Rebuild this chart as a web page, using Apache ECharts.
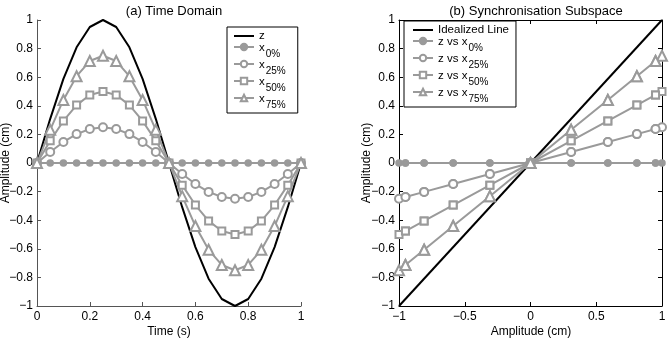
<!DOCTYPE html>
<html>
<head>
<meta charset="utf-8">
<script src="https://cdn.jsdelivr.net/npm/echarts@6/dist/echarts.min.js"></script>
<style>
  html, body { margin: 0; padding: 0; background: #fff; }
  #main { width: 672px; height: 338px; }
</style>
</head>
<body>
<div id="main"></div>
<script>
// sample times (s)
const time = [0, 0.05, 0.1, 0.15, 0.2, 0.25, 0.3, 0.35, 0.4, 0.45, 0.5,
  0.55, 0.6, 0.65, 0.7, 0.75, 0.8, 0.85, 0.9, 0.95, 1];
// reference signal z
const zVals = [0, 0.309, 0.588, 0.809, 0.951, 1, 0.951, 0.809, 0.588, 0.309, 0,
  -0.309, -0.588, -0.809, -0.951, -1, -0.951, -0.809, -0.588, -0.309, 0];
const x0 = [0, 0, 0, 0, 0, 0, 0, 0, 0, 0, 0, 0, 0, 0, 0, 0, 0, 0, 0, 0, 0];
const x25 = [0, 0.077, 0.147, 0.202, 0.238, 0.25, 0.238, 0.202, 0.147, 0.077, 0,
  -0.077, -0.147, -0.202, -0.238, -0.25, -0.238, -0.202, -0.147, -0.077, 0];
const x50 = [0, 0.155, 0.294, 0.405, 0.476, 0.5, 0.476, 0.405, 0.294, 0.155, 0,
  -0.155, -0.294, -0.405, -0.476, -0.5, -0.476, -0.405, -0.294, -0.155, 0];
const x75 = [0, 0.232, 0.441, 0.607, 0.713, 0.75, 0.713, 0.607, 0.441, 0.232, 0,
  -0.232, -0.441, -0.607, -0.713, -0.75, -0.713, -0.607, -0.441, -0.232, 0];
// idealized line end points
const idealX = [-1, 1];
const idealY = [-1, 1];

const GRAY = "#9a9a9a";
const FONT = "Liberation Sans";

const zip = (a, b) => a.map((v, i) => [v, b[i]]);
const minus = (v) => String(v).replace("-", "\u2212");

const subNames = {
  x0: ["x", "0%"], x25: ["x", "25%"], x50: ["x", "50%"], x75: ["x", "75%"],
  r0: ["z vs x", "0%"], r25: ["z vs x", "25%"], r50: ["z vs x", "50%"], r75: ["z vs x", "75%"],
};

const legendRich = {
  b: { fontSize: 11.5, color: "#000", fontFamily: FONT, verticalAlign: "top", lineHeight: 10 },
  s: { fontSize: 10, color: "#000", fontFamily: FONT, verticalAlign: "top", padding: [7, 0, 0, 1], lineHeight: 10 },
  m: { fontSize: 11.5, color: "#000", fontFamily: FONT, lineHeight: 12 },
};
const legendFmt = (name) => {
  const p = subNames[name];
  if (!p) return "{m|" + name + "}";
  return "{b|" + p[0] + "}{s|" + p[1] + "}";
};

const grayLine = (name, data, symbol, size, grid) => ({
  name: name,
  type: "line",
  xAxisIndex: grid,
  yAxisIndex: grid,
  data: data,
  symbol: symbol,
  symbolSize: size,
  showSymbol: true,
  lineStyle: { color: GRAY, width: 2 },
  itemStyle: { color: GRAY, borderColor: GRAY, borderWidth: 1.5 },
});

const valueAxis = (grid, min, max, interval, color, extra) => Object.assign({
  type: "value",
  gridIndex: grid,
  min: min,
  max: max,
  interval: interval,
  splitLine: { show: false },
  axisLine: { show: true, onZero: false, lineStyle: { color: color, width: 1 } },
  axisTick: { show: true, inside: true, length: 4, lineStyle: { color: color } },
  axisLabel: { color: "#000", fontSize: 12, fontFamily: FONT, margin: 4, formatter: minus },
}, extra || {});

const xLabel = { color: "#000", fontSize: 12, fontFamily: FONT, margin: 5, formatter: minus };

// axis titles placed as text, ECharts 6 would push them off the canvas
const axisTitle = (text, x, y, rotate) => ({
  type: "text",
  x: x, y: y,
  rotation: rotate ? Math.PI / 2 : 0,
  style: {
    text: text, fill: "#000", font: "12px " + FONT,
    align: "center", verticalAlign: "middle",
  },
});

const legendBase = {
  orient: "vertical",
  itemGap: 0,
  itemWidth: 20, itemHeight: 8,
  borderColor: "#000", borderWidth: 1, backgroundColor: "#fff",
  formatter: legendFmt,
  textStyle: { rich: legendRich },
};

const option = {
  animation: false,
  backgroundColor: "#fff",
  title: [
    { text: "(a) Time Domain", left: 169, top: 0, textAlign: "center",
      textStyle: { fontSize: 13, fontWeight: "normal", fontFamily: FONT, color: "#000" } },
    { text: "(b) Synchronisation Subspace", left: 531, top: 0, textAlign: "center",
      textStyle: { fontSize: 13, fontWeight: "normal", fontFamily: FONT, color: "#000" } },
  ],
  graphic: [
    axisTitle("Time (s)", 169, 332, false),
    axisTitle("Amplitude (cm)", 531, 332, false),
    axisTitle("Amplitude (cm)", 6, 163, true),
    axisTitle("Amplitude (cm)", 367, 163, true),
  ],
  grid: [
    { left: 37, top: 20, width: 264, height: 286, outerBoundsMode: "none", containLabel: false },
    { left: 399, top: 20, width: 263, height: 286, outerBoundsMode: "none", containLabel: false },
  ],
  legend: [
    Object.assign({}, legendBase, {
      data: [{ name: "z", itemStyle: { opacity: 0 } }, "x0", "x25", "x50", "x75"],
      left: 227, top: 27,
      padding: [3, 12, 3, 6],
    }),
    Object.assign({}, legendBase, {
      data: [{ name: "Idealized Line", itemStyle: { opacity: 0 } }, "r0", "r25", "r50", "r75"],
      left: 404, top: 21,
      padding: [3, 7, 3, 8],
    }),
  ],
  xAxis: [
    valueAxis(0, 0, 1, 0.2, "#555", { axisLabel: xLabel }),
    valueAxis(1, -1, 1, 0.5, "#000", { axisLabel: xLabel }),
    valueAxis(1, -1, 1, 0.5, "#000", { position: "top", axisLabel: { show: false } }),
  ],
  yAxis: [
    valueAxis(0, -1, 1, 0.2, "#555"),
    valueAxis(1, -1, 1, 0.2, "#000"),
    valueAxis(1, -1, 1, 0.2, "#000", { position: "right", axisLabel: { show: false } }),
  ],
  series: [
    {
      name: "z", type: "line", xAxisIndex: 0, yAxisIndex: 0,
      data: zip(time, zVals), showSymbol: false, symbol: "none",
      lineStyle: { color: "#000", width: 2 }, itemStyle: { color: "#000" },
    },
    grayLine("x0", zip(time, x0), "circle", 6, 0),
    grayLine("x25", zip(time, x25), "emptyCircle", 8, 0),
    grayLine("x50", zip(time, x50), "emptyRect", 7, 0),
    grayLine("x75", zip(time, x75), "emptyTriangle", 10, 0),
    {
      name: "Idealized Line", type: "line", xAxisIndex: 1, yAxisIndex: 1,
      data: zip(idealX, idealY), showSymbol: false, symbol: "none",
      lineStyle: { color: "#000", width: 2 }, itemStyle: { color: "#000" },
    },
    grayLine("r0", zip(zVals, x0), "circle", 6, 1),
    grayLine("r25", zip(zVals, x25), "emptyCircle", 8, 1),
    grayLine("r50", zip(zVals, x50), "emptyRect", 7, 1),
    grayLine("r75", zip(zVals, x75), "emptyTriangle", 10, 1),
  ],
};

const chart = echarts.init(document.getElementById("main"));
chart.setOption(option);
</script>
</body>
</html>
